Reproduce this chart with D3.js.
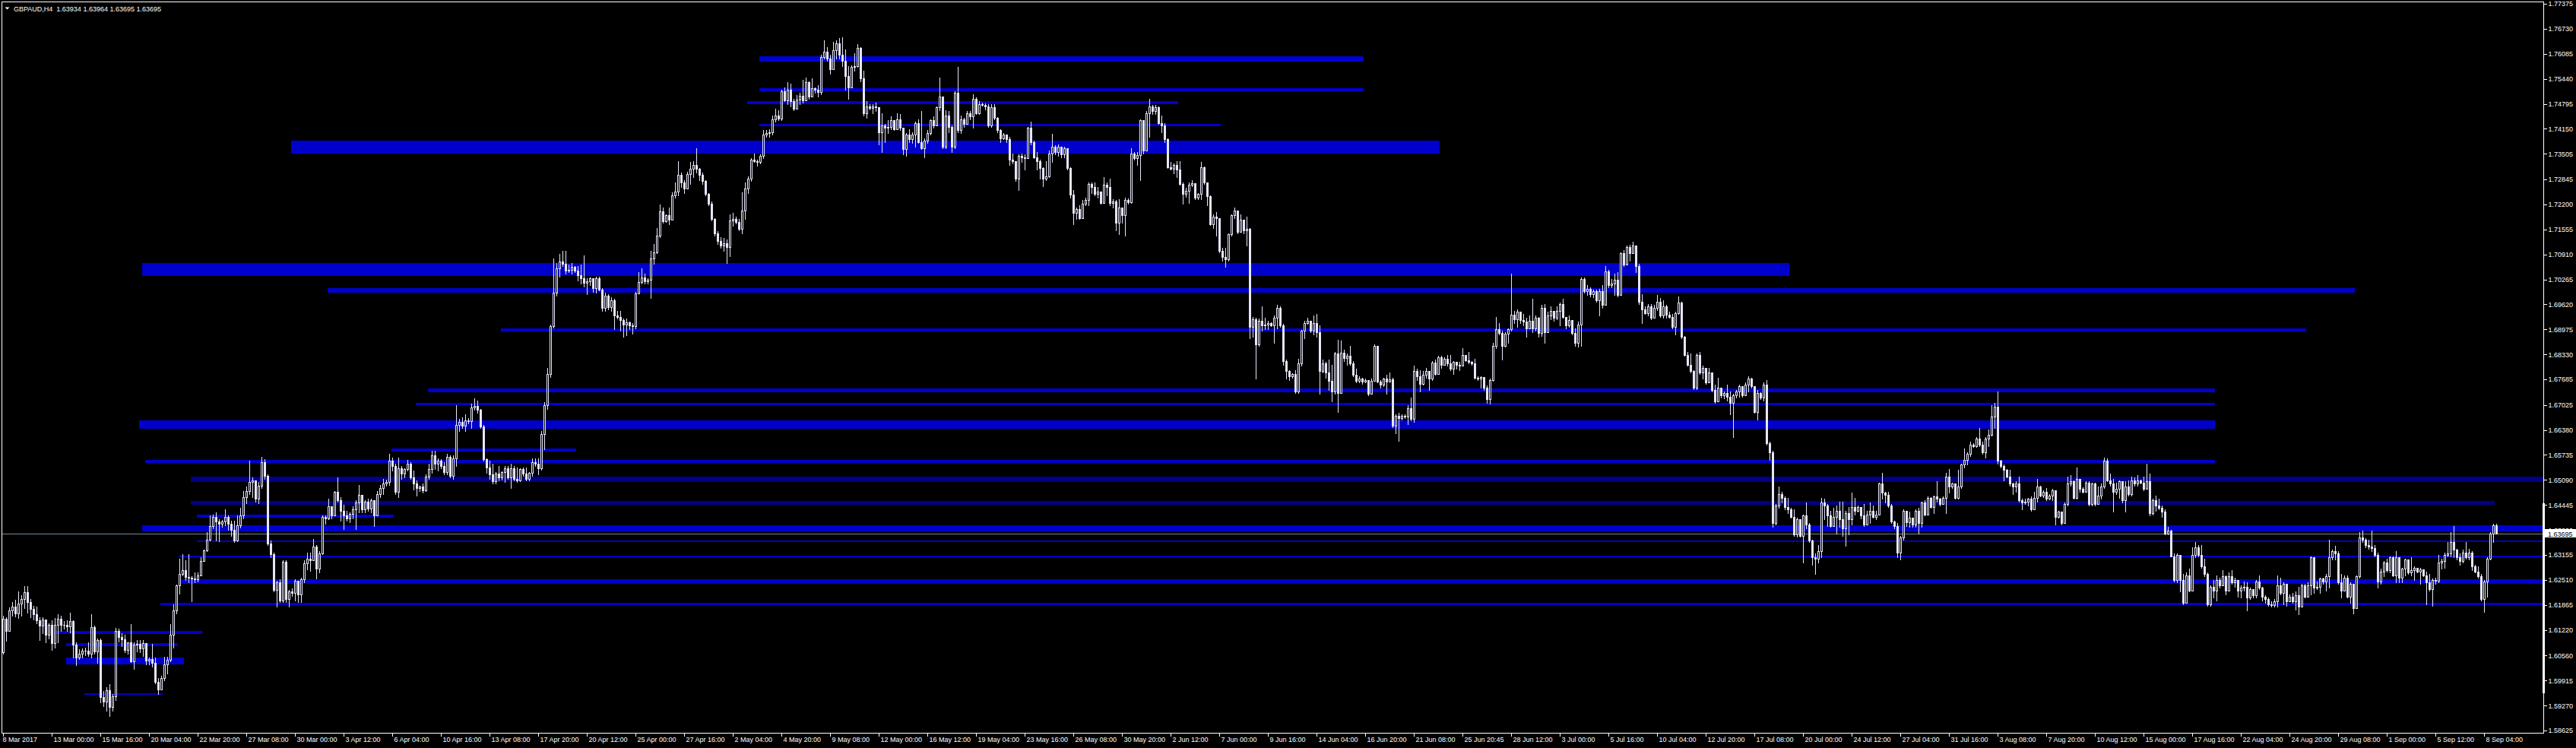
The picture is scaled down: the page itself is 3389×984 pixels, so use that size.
<!DOCTYPE html>
<html>
<head>
<meta charset="utf-8">
<title>GBPAUD,H4</title>
<script src="https://d3js.org/d3.v7.min.js"></script>
<style>
    body { margin: 0; background: #000; overflow: hidden; }
    svg { display: block; font-family: "Liberation Sans", Arial, sans-serif; }
    .axis text { fill: #fff; font-size: 9px; }
    .axis line { stroke: #fff; shape-rendering: crispEdges; }
</style>
</head>
<body>
<div id="chart-area"></div>
<script>
// GBPAUD H4, 8 Mar - 8 Sep 2017 (prices in 1/10000, open = previous close)
var firstOpen = 16064;

var closes = [
    16150,16120,16172,16182,16165,16190,16201,16220,16193,16176,
    16162,16146,16133,16148,16110,16135,16088,16136,16150,16136,
    16135,16131,16144,16084,16051,16061,16068,16068,16060,16129,
    16067,16096,15948,15937,15966,15923,15950,16119,16103,16097,
    16071,16090,16041,16085,16087,16075,16088,16042,16046,16038,
    15989,15969,15997,16034,16044,16110,16172,16237,16267,16276,
    16258,16257,16255,16252,16263,16299,16328,16355,
    16391,16414,16402,16395,16401,16414,16396,16380,16352,16393,
    16418,16465,16480,16503,16507,16461,16495,16554,16520,16345,
    16317,16225,16244,16197,16298,16202,16221,16217,16248,16213,
    16252,16294,16306,16302,16337,16280,16320,16414,16410,16441,
    16418,16478,16456,16430,16418,16410,16422,16433,16450,16470,
    16433,16453,16436,16456,16418,16472,16488,16500,16503,16558,
    16546,16478,16540,16525,16537,16550,16515,16500,16488,16492,
    16482,16517,16538,16573,16550,16558,16545,16530,16569,16520,
    16565,16650,16658,16648,16662,16660,16697,16700,16690,16647,
    16562,16542,16523,16505,16525,16515,16530,16540,16515,16540,
    16512,16507,16537,16525,16512,16527,16555,16550,16540,16627,
    16701,16782,16906,16992,17054,17073,17066,17050,17051,17058,
    17050,17038,17030,17018,17022,17029,17003,17030,17000,16953,
    16984,16955,16972,16934,16930,16922,16910,16915,16908,16905,
    16990,
    17019,17032,17022,17025,17081,17097,17139,17203,17177,17192,
    17180,17243,17254,17296,17277,17260,17299,17311,17322,17312,
    17296,17280,17247,17221,17182,17146,17126,17113,17120,17110,
    17178,17182,17175,17156,17205,17260,17287,17336,17332,17330,
    17345,17401,17405,
    17407,17440,17450,17441,17512,17489,17515,17486,17466,17490,
    17500,17488,17535,17499,17520,17515,17510,17600,17613,17597,
    17568,17617,17636,17607,17590,17551,17522,17574,17577,17624,
    17545,17456,17473,17468,17473,17470,17407,17424,17417,17420,
    17437,17414,17440,17418,17362,17400,17388,17401,17430,17381,
    17365,17385,17404,17437,17424,17470,17499,17368,17450,17420,
    17368,17509,17411,17440,17427,17456,17447,17492,17456,17478,
    17476,17472,
    17424,17470,17443,17411,17391,17401,17388,17335,17332,17287,
    17345,17342,17339,17417,17381,17342,17332,17313,17287,17293,
    17352,17368,17355,17368,17350,17365,17313,17245,17198,17208,
    17185,17221,17232,17273,17264,17247,17254,17224,17270,17264,
    17224,17228,17172,17211,17192,17231,17225,17352,17340,17348,
    17437,17358,17456,17473,17460,17470,17430,17424,17388,17316,
    17312,17322,17310,17273,17247,17255,
    17270,17274,17237,17247,17316,17276,17241,17169,17188,17184,
    17100,17084,17078,17143,17192,17205,17149,17180,17153,17156,
    16904,16924,16858,16920,16907,
    16910,16914,16908,16927,16953,16907,16816,16790,16777,16782,
    16738,16809,16894,16914,16920,16895,16914,16891,16790,16809,
    16786,16764,16737,16835,16734,16838,16823,16829,16809,16780,
    16764,16770,16763,16767,16731,16764,16855,16763,16754,16770,
    16763,16768,16649,16675,16668,16674,16672,16695,16666,16790,
    16777,16757,16780,16790,16770,16812,16783,16826,16806,16822,
    16809,16796,16813,16805,16803,16832,16817,16813,16809,16773,
    16770,16774,16747,16718,16767,16855,16898,16888,16855,16887,
    16898,16935,16924,16943,16922,16918,16901,16920,16901,16927,
    16888,16953,16891,16933,16946,16928,16946,16963,16930,16907,
    16922,16888,16862,16910,17028,16996,17002,16989,16996,16973,
    16996,16960,17048,17012,17015,17025,16986,17094,17064,17110,
    17094,17113,17061,16969,16950,16940,16956,16927,16953,16969,
    16933,16956,16935,16930,16904,16940,16966,16878,16832,16806,
    16790,16747,16832,16786,16799,16760,16786,16741,16711,16747,
    16728,16734,16724,16708,16728,16737,16750,16728,16754,16770,
    16750,16685,16734,16721,16754,16603,16580,16397,16443,16473,
    16463,16440,16433,16414,16368,16407,16365,16417,16394,16352,
    16309,16306,16325,16450,16443,16417,16391,16414,16430,16407,
    16384,16423,16407,16440,16430,16440,16417,16394,16420,16430,
    16414,16420,16499,16476,16470,16443,16401,16391,16322,
    16361,16430,16400,16411,16394,16430,16397,16450,16420,16463,
    16440,16466,16460,16446,16463,16518,16492,16499,16463,16492,
    16548,16561,16577,16600,16597,16616,16600,16581,16616,16626,
    16672,16698,16558,16545,16535,16518,16499,16492,16499,16456,
    16450,16453,16460,16433,16463,16492,16469,16479,16460,16469,
    16482,16414,16427,16397,16446,16499,16505,16463,16512,16486,
    16479,16502,16446,16499,16446,16469,16492,16558,16508,16499,
    16479,16486,16505,16456,16492,16473,16508,16499,16508,16502,
    16486,16505,16424,16456,16443,16437,16427,16371,16378,16312,
    16250,16316,16250,16192,16263,16224,16316,16335,16316,16286,
    16267,16188,16234,16224,16250,16237,16260,16224,16260,16244,
    16250,16224,16231,16234,16205,16228,16211,16247,16231,16208,
    16201,16188,16186,16195,16237,16218,16241,16195,16208,16195,
    16211,16182,16237,16208,16237,16309,16231,16234,16254,16246,
    16260,16309,16326,16319,16244,16224,16257,16208,16241,16178,
    16260,16361,16355,16342,16337,16333,16316,16247,16273,16296,
    16276,16309,16263,16309,16257,16280,16303,16270,16276,16283,
    16273,16279,16263,16244,16228,16250,16248,16296,16299,16316,
    16319,16348,16329,16309,16299,16322,16309,16322,16286,16273,
    16260,16201,16247,16306,16371,16393,16369.5
];

var highs = [
    16158,16155,16180,16193,16199,16221,16211,16236,16236,16201,
    16185,16183,16155,16155,16146,16140,16146,16152,16162,16158,
    16145,16146,16167,16146,16090,16072,16074,16077,16090,16163,
    16134,16100,16100,15964,15975,15982,15956,16127,16125,16113,
    16110,16090,16137,16090,16096,16096,16096,16087,16051,16087,
    16051,15997,16003,16052,16052,16137,16189,16240,16306,16317,
    16301,16317,16260,16270,16271,16309,16330,16375,
    16418,16420,16426,16407,16405,16434,16418,16403,16403,16418,
    16438,16480,16492,16558,16515,16496,16503,16569,16562,16523,
    16352,16321,16248,16252,16302,16302,16225,16230,16252,16244,
    16256,16302,16321,16321,16356,16341,16325,16418,16418,16461,
    16441,16480,16515,16465,16445,16430,16426,16441,16457,16496,
    16461,16457,16461,16461,16449,16480,16496,16511,16510,16577,
    16566,16550,16566,16546,16540,16561,16555,16534,16507,16495,
    16500,16523,16550,16585,16585,16565,16562,16554,16577,16573,
    16573,16701,16666,16670,16678,16668,16705,16720,16713,16693,
    16650,16565,16558,16550,16530,16546,16532,16546,16546,16550,
    16545,16542,16540,16542,16542,16530,16565,16565,16565,16635,
    16709,16798,16910,17081,17069,17093,17100,17100,17065,17069,
    17060,17061,17065,17089,17030,17032,17030,17034,17033,17003,
    16992,16988,16980,16976,16945,16945,16926,16926,16918,16914,
    16995,
    17045,17054,17041,17030,17100,17117,17159,17219,17211,17195,
    17211,17251,17277,17332,17303,17283,17305,17329,17332,17365,
    17313,17303,17283,17250,17228,17185,17152,17136,17133,17130,
    17195,17198,17188,17182,17251,17277,17293,17339,17352,17335,
    17350,17411,17412,
    17414,17450,17466,17463,17515,17522,17535,17532,17492,17502,
    17509,17541,17548,17538,17545,17522,17528,17607,17643,17626,
    17607,17640,17643,17649,17651,17620,17577,17579,17610,17633,
    17626,17564,17486,17478,17479,17483,17470,17456,17427,17437,
    17447,17430,17456,17453,17404,17404,17414,17407,17434,17440,
    17461,17391,17411,17440,17447,17473,17548,17456,17463,17460,
    17424,17512,17574,17450,17443,17460,17460,17505,17496,17486,
    17482,17480,
    17479,17479,17479,17445,17414,17404,17401,17394,17352,17332,
    17349,17352,17349,17420,17434,17385,17355,17335,17316,17332,
    17358,17402,17372,17375,17368,17368,17365,17316,17257,17211,
    17218,17231,17237,17277,17277,17277,17264,17254,17290,17277,
    17287,17234,17231,17234,17211,17237,17236,17365,17355,17355,
    17440,17417,17460,17492,17476,17476,17473,17450,17430,17391,
    17329,17325,17332,17332,17277,17262,
    17277,17283,17273,17250,17329,17318,17277,17244,17195,17201,
    17185,17107,17107,17146,17195,17211,17195,17195,17172,17188,
    17159,16930,16927,16925,16956,
    16927,16920,16915,16933,16960,16956,16911,16819,16793,16785,
    16793,16822,16897,16920,16927,16914,16933,16937,16907,16819,
    16813,16819,16806,16839,16871,16868,16845,16835,16855,16816,
    16796,16777,16773,16770,16767,16770,16858,16806,16767,16773,
    16780,16786,16773,16678,16682,16678,16678,16701,16721,16803,
    16796,16793,16790,16799,16786,16816,16819,16829,16829,16826,
    16832,16832,16816,16813,16813,16849,16832,16839,16816,16822,
    16777,16777,16773,16753,16770,16862,16930,16914,16894,16891,
    16901,17041,16946,16950,16933,16937,16927,16933,16976,16933,
    16930,16960,16963,16943,16956,16940,16956,16966,16976,16927,
    16933,16911,16901,16917,17032,17032,17012,17005,17000,17000,
    17002,17012,17061,17051,17028,17041,17045,17097,17103,17113,
    17116,17123,17103,17067,16989,16956,16963,16963,16960,16986,
    16979,16973,16960,16943,16937,16943,16982,16969,16881,16839,
    16835,16793,16835,16839,16803,16790,16799,16770,16754,16773,
    16747,16738,16754,16737,16731,16741,16754,16750,16760,16777,
    16773,16750,16741,16735,16760,16767,16607,16584,16446,16492,
    16479,16466,16463,16437,16433,16411,16388,16420,16450,16397,
    16355,16319,16342,16463,16460,16446,16430,16437,16443,16453,
    16453,16430,16440,16476,16463,16443,16430,16446,16430,16450,
    16443,16430,16502,16528,16479,16479,16446,16404,16397,
    16365,16433,16414,16427,16411,16433,16437,16453,16456,16466,
    16465,16469,16505,16463,16466,16528,16538,16502,16495,16535,
    16551,16590,16581,16607,16603,16620,16643,16607,16620,16639,
    16701,16708,16737,16561,16548,16538,16535,16502,16505,16518,
    16460,16460,16463,16466,16479,16512,16495,16482,16489,16472,
    16486,16460,16430,16417,16450,16518,16521,16508,16541,16512,
    16490,16505,16505,16502,16501,16492,16499,16567,16564,16525,
    16512,16502,16508,16463,16505,16508,16518,16515,16521,16510,
    16518,16551,16525,16460,16469,16460,16443,16433,16388,16381,
    16319,16319,16273,16267,16270,16280,16335,16348,16342,16342,
    16306,16270,16237,16250,16263,16257,16276,16263,16270,16276,
    16257,16250,16237,16247,16244,16231,16221,16250,16263,16234,
    16211,16205,16195,16201,16263,16257,16244,16214,16214,16218,
    16221,16234,16241,16241,16244,16312,16254,16247,16257,16256,
    16267,16355,16329,16339,16326,16267,16263,16263,16244,16218,
    16263,16375,16378,16358,16355,16378,16342,16322,16280,16299,
    16306,16312,16312,16326,16270,16283,16306,16296,16309,16286,
    16283,16283,16273,16273,16267,16254,16257,16316,16306,16322,
    16348,16375,16391,16332,16319,16329,16348,16332,16326,16290,
    16286,16267,16250,16309,16375,16396,16396.4
];

var lows = [
    16060,16093,16139,16159,16157,16152,16159,16178,16167,16155,
    16149,16139,16095,16113,16090,16100,16070,16077,16090,16119,
    16125,16119,16116,16050,16031,16046,16050,16057,16054,16051,
    16060,16038,15936,15925,15913,15900,15913,15940,16092,16080,
    16064,16060,16039,16021,16067,16064,16054,16034,16034,16028,
    15985,15957,15968,15992,16010,16041,16077,16165,16216,16262,
    16250,16244,16195,16244,16247,16262,16299,16325,
    16352,16385,16352,16350,16388,16392,16380,16364,16348,16350,
    16387,16410,16449,16472,16465,16453,16449,16488,16511,16341,
    16310,16221,16182,16194,16194,16193,16182,16210,16197,16193,
    16193,16244,16279,16275,16302,16255,16270,16317,16395,16407,
    16410,16430,16453,16403,16383,16403,16399,16410,16383,16426,
    16426,16426,16430,16426,16391,16418,16465,16472,16495,16496,
    16534,16472,16465,16511,16515,16534,16511,16484,16468,16480,
    16476,16480,16511,16527,16538,16534,16540,16523,16523,16515,
    16511,16546,16635,16643,16635,16655,16643,16690,16682,16643,
    16558,16527,16511,16500,16500,16507,16510,16503,16511,16488,
    16508,16503,16505,16519,16507,16508,16519,16545,16523,16535,
    16589,16693,16775,16902,16984,17034,17061,17042,17045,17042,
    17045,17023,17015,17007,16988,17012,16995,16992,16998,16945,
    16945,16950,16945,16899,16926,16895,16879,16883,16898,16887,
    16900,
    16996,17015,17015,17015,16979,17067,17094,17136,17172,17175,
    17169,17188,17237,17244,17264,17250,17260,17273,17290,17303,
    17283,17273,17244,17218,17179,17139,17117,17107,17100,17068,
    17087,17165,17170,17153,17146,17182,17250,17280,17329,17319,
    17325,17339,17395,
    17394,17401,17433,17437,17437,17486,17479,17473,17463,17470,
    17479,17483,17492,17492,17502,17509,17499,17505,17597,17590,
    17558,17590,17597,17597,17577,17515,17492,17545,17564,17574,
    17538,17450,17443,17465,17456,17460,17375,17355,17381,17404,
    17414,17411,17417,17411,17349,17345,17381,17378,17368,17378,
    17362,17342,17378,17401,17417,17430,17463,17365,17365,17407,
    17355,17365,17407,17404,17420,17427,17440,17417,17453,17453,
    17474,17465,
    17420,17420,17440,17407,17381,17388,17381,17322,17325,17280,
    17257,17329,17309,17339,17375,17339,17309,17287,17267,17283,
    17290,17329,17350,17345,17342,17342,17309,17237,17169,17182,
    17182,17205,17218,17218,17250,17244,17237,17221,17234,17244,
    17218,17211,17153,17143,17172,17139,17222,17224,17335,17322,
    17283,17352,17407,17394,17453,17453,17427,17407,17381,17313,
    17309,17300,17290,17270,17221,17240,
    17224,17267,17234,17234,17234,17273,17218,17166,17159,17139,
    17097,17074,17058,17074,17139,17185,17146,17162,17146,17113,
    16875,16878,16770,16855,16894,
    16898,16898,16905,16862,16901,16904,16806,16770,16767,16772,
    16734,16734,16803,16875,16911,16891,16884,16878,16731,16786,
    16773,16741,16711,16731,16685,16819,16816,16806,16806,16777,
    16760,16760,16757,16760,16728,16750,16799,16760,16747,16750,
    16731,16763,16646,16629,16610,16664,16669,16652,16662,16659,
    16767,16737,16754,16773,16741,16767,16780,16803,16799,16806,
    16803,16793,16783,16796,16793,16813,16815,16809,16806,16770,
    16767,16747,16741,16708,16705,16764,16849,16884,16819,16852,
    16862,16894,16914,16904,16914,16907,16878,16901,16891,16894,
    16878,16881,16862,16914,16924,16920,16924,16907,16927,16901,
    16904,16884,16855,16852,16855,16992,16986,16982,16980,16969,
    16933,16953,16996,17005,17005,16986,16982,17025,17061,17084,
    17074,17097,17045,16963,16914,16937,16933,16924,16933,16947,
    16930,16927,16927,16927,16901,16884,16937,16875,16829,16803,
    16786,16744,16744,16783,16770,16757,16760,16737,16708,16714,
    16721,16720,16714,16678,16620,16721,16724,16724,16734,16737,
    16747,16682,16665,16718,16714,16600,16561,16388,16394,16437,
    16450,16433,16424,16411,16365,16362,16362,16296,16384,16348,
    16290,16267,16296,16309,16407,16391,16388,16410,16371,16388,
    16365,16339,16368,16394,16420,16427,16410,16391,16401,16397,
    16411,16407,16424,16460,16450,16440,16397,16385,16309,
    16303,16355,16391,16388,16388,16388,16371,16388,16417,16427,
    16438,16424,16453,16443,16446,16424,16476,16489,16460,16460,
    16489,16541,16548,16571,16594,16594,16597,16577,16567,16597,
    16623,16643,16551,16541,16508,16515,16495,16473,16479,16453,
    16433,16446,16443,16430,16443,16453,16466,16465,16456,16458,
    16456,16394,16411,16394,16411,16443,16495,16460,16460,16479,
    16476,16479,16443,16443,16444,16460,16460,16489,16505,16495,
    16427,16473,16463,16450,16427,16469,16469,16495,16495,16500,
    16482,16492,16417,16420,16430,16433,16414,16368,16368,16312,
    16247,16244,16221,16188,16195,16221,16270,16309,16312,16283,
    16260,16185,16185,16205,16198,16231,16241,16214,16234,16241,
    16234,16208,16205,16224,16172,16201,16205,16205,16228,16198,
    16192,16185,16182,16182,16182,16214,16188,16185,16195,16192,
    16175,16162,16195,16205,16214,16214,16218,16228,16218,16242,
    16224,16231,16303,16303,16241,16205,16224,16205,16192,16165,
    16205,16257,16348,16335,16332,16326,16312,16231,16241,16260,
    16273,16270,16260,16244,16244,16244,16263,16267,16263,16250,
    16270,16241,16260,16188,16224,16185,16241,16244,16280,16283,
    16312,16312,16309,16303,16290,16296,16306,16303,16276,16270,
    16257,16198,16169,16208,16303,16348,16369.5
];

// one label every 16 bars
var dateLabels = ["8 Mar 2017", "13 Mar 00:00", "15 Mar 16:00", "20 Mar 04:00", "22 Mar 20:00",
    "27 Mar 08:00", "30 Mar 00:00", "3 Apr 12:00", "6 Apr 04:00", "10 Apr 16:00", "13 Apr 08:00",
    "17 Apr 20:00", "20 Apr 12:00", "25 Apr 00:00", "27 Apr 16:00", "2 May 04:00", "4 May 20:00",
    "9 May 08:00", "12 May 00:00", "16 May 12:00", "19 May 04:00", "23 May 16:00", "26 May 08:00",
    "30 May 20:00", "2 Jun 12:00", "7 Jun 00:00", "9 Jun 16:00", "14 Jun 04:00", "16 Jun 20:00",
    "21 Jun 08:00", "25 Jun 20:45", "28 Jun 12:00", "3 Jul 00:00", "5 Jul 16:00", "10 Jul 04:00",
    "12 Jul 20:00", "17 Jul 08:00", "20 Jul 00:00", "24 Jul 12:00", "27 Jul 04:00", "31 Jul 16:00",
    "3 Aug 08:00", "7 Aug 20:00", "10 Aug 12:00", "15 Aug 00:00", "17 Aug 16:00", "22 Aug 04:00",
    "24 Aug 20:00", "29 Aug 08:00", "1 Sep 00:00", "5 Sep 12:00", "8 Sep 04:00"];

var priceTicks = [1.77375, 1.76730, 1.76085, 1.75440, 1.74795, 1.74150, 1.73505, 1.72845, 1.72200,
    1.71555, 1.70910, 1.70265, 1.69620, 1.68975, 1.68330, 1.67685, 1.67025, 1.66380, 1.65735,
    1.65090, 1.64445, 1.63800, 1.63155, 1.62510, 1.61865, 1.61220, 1.60560, 1.59915, 1.59270, 1.58625];

// support / resistance zones: first bar, last bar (-1 = to the edge), top and bottom price
var zoneFrom   = [249, 249, 245, 249, 95, 46, 107, 164, 140, 136, 45, 128, 47, 62, 62, 64, 46, 64, 58, 58, 52, 17, 21, 21, 27];
var zoneTo     = [447, 447, 386, 400, 472, 587, 773, 757, 727, 727, 727, 188, 727, -1, 819, 128, -1, -1, -1, -1, -1, 65, 57, 59, 52];
var zoneTop    = [1.76022, 1.75198, 1.74865, 1.74276, 1.73845, 1.70687, 1.70040, 1.69001, 1.67452, 1.67079,
    1.66628, 1.65902, 1.65608, 1.65177, 1.64549, 1.64196, 1.63921, 1.63529, 1.63137, 1.62529,
    1.61921, 1.61195, 1.60881, 1.60509, 1.59587];
var zoneBottom = [1.75885, 1.75120, 1.74786, 1.74217, 1.73512, 1.70354, 1.69923, 1.68922, 1.67354, 1.67020,
    1.66412, 1.65824, 1.65529, 1.65039, 1.64451, 1.64118, 1.63764, 1.63490, 1.63098, 1.62411,
    1.61862, 1.61117, 1.60803, 1.60332, 1.59548];
var zoneDark   = [0, 0, 0, 0, 0, 0, 0, 0, 0, 0, 0, 0, 0, 1, 1, 0, 0, 0, 0, 0, 0, 0, 0, 0, 0];

var symbolName = "GBPAUD,H4";
var lastQuote = [1.63934, 1.63964, 1.63695, 1.63695];


CandleChart = function(_parentElement) {
    this.parentElement = _parentElement;
    this.initVis();
}

CandleChart.prototype.initVis = function() {
    var vis = this;

    vis.width = 3389;
    vis.height = 984;
    vis.plot = {left: 2, top: 2, right: 3346, bottom: 964};

    vis.svg = d3.select("#" + vis.parentElement).append("svg")
        .attr("width", vis.width)
        .attr("height", vis.height);

    vis.svg.append("rect")
        .attr("width", vis.width)
        .attr("height", vis.height)
        .attr("fill", "#000");

    vis.svg.append("clipPath")
        .attr("id", "plot-clip")
        .append("rect")
        .attr("x", vis.plot.left)
        .attr("y", vis.plot.top)
        .attr("width", vis.plot.right - vis.plot.left)
        .attr("height", vis.plot.bottom - vis.plot.top);

    // 4px per bar, leaves the usual shift on the right
    vis.x = d3.scaleLinear()
        .domain([0, 835])
        .range([4, 3344]);

    vis.y = d3.scaleLinear()
        .domain([1.58625, 1.77375])
        .range([961, 5]);

    vis.wrangleData();
}

CandleChart.prototype.wrangleData = function() {
    var vis = this;

    vis.displayData = closes.map(function(c, i) {
        var o = i === 0 ? firstOpen : closes[i - 1];
        return {
            i: i,
            open: o / 10000,
            close: c / 10000,
            high: Math.max(highs[i], o, c) / 10000,
            low: Math.min(lows[i], o, c) / 10000
        };
    });

    vis.zones = zoneFrom.map(function(d, i) {
        return {from: d, to: zoneTo[i], top: zoneTop[i], bottom: zoneBottom[i], dark: zoneDark[i]};
    });

    vis.updateVis();
}

CandleChart.prototype.updateVis = function() {
    var vis = this;
    var candleColor = "#e6e6fa";

    var layer = vis.svg.append("g")
        .attr("clip-path", "url(#plot-clip)")
        .attr("shape-rendering", "crispEdges");

    // zones behind the price
    layer.append("g")
        .selectAll("rect")
        .data(vis.zones)
        .enter().append("rect")
        .attr("x", function(d) { return Math.round(vis.x(d.from)) - 1; })
        .attr("y", function(d) { return Math.round(vis.y(d.top)); })
        .attr("width", function(d) {
            var x1 = d.to < 0 ? vis.plot.right : Math.round(vis.x(d.to)) + 2;
            return x1 - Math.round(vis.x(d.from)) + 1;
        })
        .attr("height", function(d) {
            return Math.max(2, Math.round(vis.y(d.bottom)) - Math.round(vis.y(d.top)));
        })
        .attr("fill", function(d) { return d.dark ? "#000088" : "#0000cc"; });

    // bid line
    layer.append("line")
        .attr("x1", vis.plot.left)
        .attr("x2", vis.plot.right)
        .attr("y1", Math.floor(vis.y(lastQuote[3])) + 0.5)
        .attr("y2", Math.floor(vis.y(lastQuote[3])) + 0.5)
        .attr("stroke", "#778899");

    var candles = layer.append("g")
        .selectAll("g")
        .data(vis.displayData)
        .enter().append("g");

    candles.append("rect")
        .attr("x", function(d) { return Math.round(vis.x(d.i)); })
        .attr("y", function(d) { return Math.round(vis.y(d.high)); })
        .attr("width", 1)
        .attr("height", function(d) { return Math.round(vis.y(d.low)) - Math.round(vis.y(d.high)) + 1; })
        .attr("fill", candleColor);

    candles.append("rect")
        .attr("x", function(d) { return Math.round(vis.x(d.i)) - 1; })
        .attr("y", function(d) { return Math.round(vis.y(Math.max(d.open, d.close))); })
        .attr("width", 3)
        .attr("height", function(d) {
            return Math.round(vis.y(Math.min(d.open, d.close))) - Math.round(vis.y(Math.max(d.open, d.close))) + 1;
        })
        .attr("fill", candleColor);

    // bull candles are hollow
    candles.filter(function(d) {
            return d.close > d.open &&
                Math.round(vis.y(d.open)) - Math.round(vis.y(d.close)) > 1;
        })
        .append("rect")
        .attr("x", function(d) { return Math.round(vis.x(d.i)); })
        .attr("y", function(d) { return Math.round(vis.y(d.close)) + 1; })
        .attr("width", 1)
        .attr("height", function(d) { return Math.round(vis.y(d.open)) - Math.round(vis.y(d.close)) - 1; })
        .attr("fill", "#000");

    // frame
    var frame = vis.svg.append("g")
        .attr("stroke", "#fff")
        .attr("shape-rendering", "crispEdges");
    frame.append("line").attr("x1", vis.plot.left).attr("x2", vis.plot.right)
        .attr("y1", vis.plot.top + 0.5).attr("y2", vis.plot.top + 0.5);
    frame.append("line").attr("x1", vis.plot.left + 0.5).attr("x2", vis.plot.left + 0.5)
        .attr("y1", vis.plot.top).attr("y2", vis.plot.bottom);
    frame.append("line").attr("x1", vis.plot.right + 0.5).attr("x2", vis.plot.right + 0.5)
        .attr("y1", vis.plot.top).attr("y2", vis.plot.bottom + 1);
    frame.append("line").attr("x1", vis.plot.left).attr("x2", vis.plot.right)
        .attr("y1", vis.plot.bottom + 0.5).attr("y2", vis.plot.bottom + 0.5);

    vis.svg.append("rect")
        .attr("x", vis.plot.right - 1)
        .attr("y", 662)
        .attr("width", 3)
        .attr("height", 250)
        .attr("fill", "#fff");

    // price axis
    vis.svg.append("g")
        .attr("class", "axis")
        .attr("transform", "translate(" + (vis.plot.right + 0.5) + ",0)")
        .call(d3.axisRight(vis.y)
            .tickValues(priceTicks)
            .tickFormat(d3.format(".5f"))
            .tickSize(4)
            .tickPadding(2))
        .call(function(g) { g.select(".domain").remove(); });

    // time axis
    vis.svg.append("g")
        .attr("class", "axis")
        .attr("transform", "translate(0," + (vis.plot.bottom + 0.5) + ")")
        .call(d3.axisBottom(vis.x)
            .tickValues(dateLabels.map(function(d, i) { return i * 16; }))
            .tickFormat(function(d, i) { return dateLabels[i]; })
            .tickSize(4))
        .call(function(g) { g.select(".domain").remove(); })
        .selectAll("text")
        .attr("text-anchor", "start")
        .attr("x", function(d, i) { return i === 0 ? -1 : 2; })
        .attr("y", 5);

    // current price tag
    var bidY = vis.y(lastQuote[3]);
    vis.svg.append("rect")
        .attr("x", vis.plot.right + 1)
        .attr("y", Math.round(bidY) - 6)
        .attr("width", vis.width - vis.plot.right - 1)
        .attr("height", 11)
        .attr("fill", "#fff");
    vis.svg.append("text")
        .attr("x", vis.plot.right + 6)
        .attr("y", bidY)
        .attr("dy", "0.35em")
        .attr("font-size", 9)
        .attr("fill", "#000")
        .text(d3.format(".5f")(lastQuote[3]));

    // title
    vis.svg.append("path")
        .attr("d", "M6.5,9.5 L12.5,9.5 L9.5,12.5 Z")
        .attr("fill", "#fff");
    vis.svg.append("text")
        .attr("x", 18)
        .attr("y", 14.5)
        .attr("font-size", 9)
        .attr("fill", "#fff")
        .style("white-space", "pre")
        .text(symbolName + "  " + lastQuote.map(d3.format(".5f")).join(" "));
}

var chart = new CandleChart("chart-area");
</script>
</body>
</html>
